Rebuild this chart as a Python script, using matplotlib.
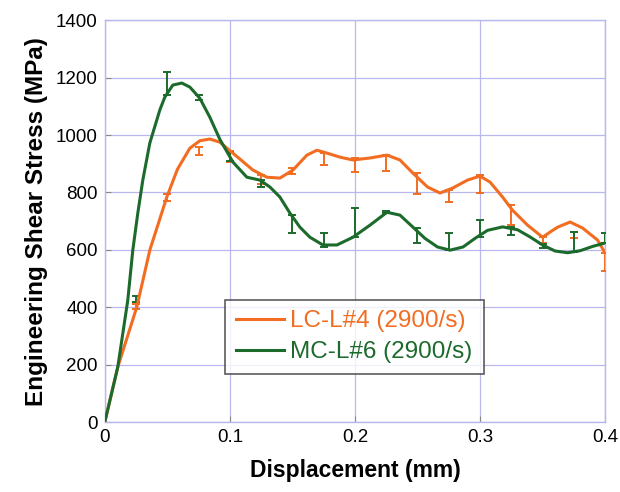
import numpy as np
import matplotlib.pyplot as plt

plt.rcParams['font.family'] = ['Liberation Sans', 'DejaVu Sans']

# LC-L#4 (2900/s) curve
lc_x = [0, 0.0104, 0.0256, 0.036, 0.0496, 0.058, 0.068, 0.076, 0.084, 0.092,
        0.1024, 0.1184, 0.1296, 0.140, 0.1504, 0.1616, 0.1696, 0.1776, 0.188,
        0.1984, 0.212, 0.2256, 0.236, 0.2464, 0.258, 0.268, 0.278, 0.290,
        0.300, 0.308, 0.318, 0.326, 0.338, 0.350, 0.356, 0.362, 0.372, 0.382,
        0.394, 0.400]
lc_y = [0, 192, 401, 599, 784, 880, 954, 980, 986, 975,
        937, 878, 853, 850, 878, 930, 947, 937, 923,
        913, 920, 930, 913, 867, 819, 798, 815, 843,
        857, 836, 784, 738, 686, 644, 662, 679, 697, 676,
        634, 589]

# MC-L#6 (2900/s) curve
mc_x = [0, 0.0104, 0.0184, 0.0224, 0.0264, 0.0304, 0.036, 0.044, 0.048, 0.0544,
        0.0616, 0.068, 0.076, 0.084, 0.092, 0.1024, 0.1136, 0.124, 0.132, 0.140,
        0.148, 0.156, 0.164, 0.1744, 0.1856, 0.1984, 0.212, 0.2256, 0.236,
        0.2464, 0.256, 0.266, 0.276, 0.2864, 0.296, 0.306, 0.318, 0.33, 0.34,
        0.35, 0.36, 0.37, 0.38, 0.39, 0.4]
mc_y = [0, 192, 425, 599, 728, 843, 972, 1087, 1132, 1174,
        1181, 1167, 1128, 1062, 985, 906, 853, 843, 819, 784,
        728, 679, 644, 617, 617, 644, 686, 731, 721,
        679, 640, 610, 599, 610, 640, 668, 680, 670, 645,
        617, 596, 590, 597, 612, 624]

# error bars: positions, lower and upper ends
eb_x = [0.025, 0.05, 0.075, 0.1, 0.125, 0.15, 0.175, 0.2, 0.225, 0.25,
        0.275, 0.3, 0.325, 0.35, 0.375, 0.4]
lc_lo = [395, 770, 930, 905, 830, 864, 895, 871, 874, 794, 766, 798, 686, 625, 641, 525]
lc_hi = [410, 795, 960, 945, 860, 885, 937, 920, 930, 867, 808, 860, 756, 645, 662, 590]
mc_lo = [420, 1140, 1122, 910, 819, 658, 610, 644, 728, 623, 599, 644, 651, 605, 592, 624]
mc_hi = [440, 1220, 1139, 940, 843, 721, 658, 745, 735, 676, 658, 703, 679, 620, 662, 658]

orange = '#f26d21'
green = '#1c6b2c'
grid_c = '#b8b8ee'

fig = plt.figure(figsize=(6.2, 4.92), dpi=100)
ax = fig.add_axes([0.169, 0.142, 0.807, 0.817])

for lo, hi, c in [(lc_lo, lc_hi, orange), (mc_lo, mc_hi, green)]:
    lo = np.array(lo)
    hi = np.array(hi)
    mid = (lo + hi) / 2
    ax.errorbar(eb_x, mid, yerr=[mid - lo, hi - mid], fmt='none', ecolor=c,
                elinewidth=1.4, capsize=3, capthick=1.4, zorder=3)

ax.plot(lc_x, lc_y, color=orange, lw=2.2, label='LC-L#4 (2900/s)', zorder=4)
ax.plot(mc_x, mc_y, color=green, lw=2.2, label='MC-L#6 (2900/s)', zorder=4)

ax.set_xlim(0, 0.4)
ax.set_ylim(0, 1400)
ax.set_xticks([0, 0.1, 0.2, 0.3, 0.4])
ax.set_xticklabels(['0', '0.1', '0.2', '0.3', '0.4'])
ax.set_yticks(range(0, 1401, 200))
ax.grid(True, color=grid_c, lw=0.9)
ax.set_axisbelow(True)
for s in ax.spines.values():
    s.set_color(grid_c)
    s.set_linewidth(1.0)
ax.tick_params(direction='in', length=4, color='#888888', labelsize=13.5, pad=5)

ax.set_xlabel('Displacement (mm)', fontsize=16.5, fontweight='bold', labelpad=9)
ax.set_ylabel('Engineering Shear Stress (MPa)', fontsize=17.5, fontweight='bold', labelpad=6)

leg = ax.legend(loc='upper left', bbox_to_anchor=(0.24, 0.305), fontsize=17.5,
                frameon=True, fancybox=False, handlelength=2.0, handletextpad=0.25,
                borderpad=0.45, labelspacing=0.35, borderaxespad=0)
leg.get_frame().set_edgecolor('#333333')
leg.get_frame().set_linewidth(1.2)
for t, c in zip(leg.get_texts(), [orange, green]):
    t.set_color(c)

plt.savefig('out.png', dpi=100)
